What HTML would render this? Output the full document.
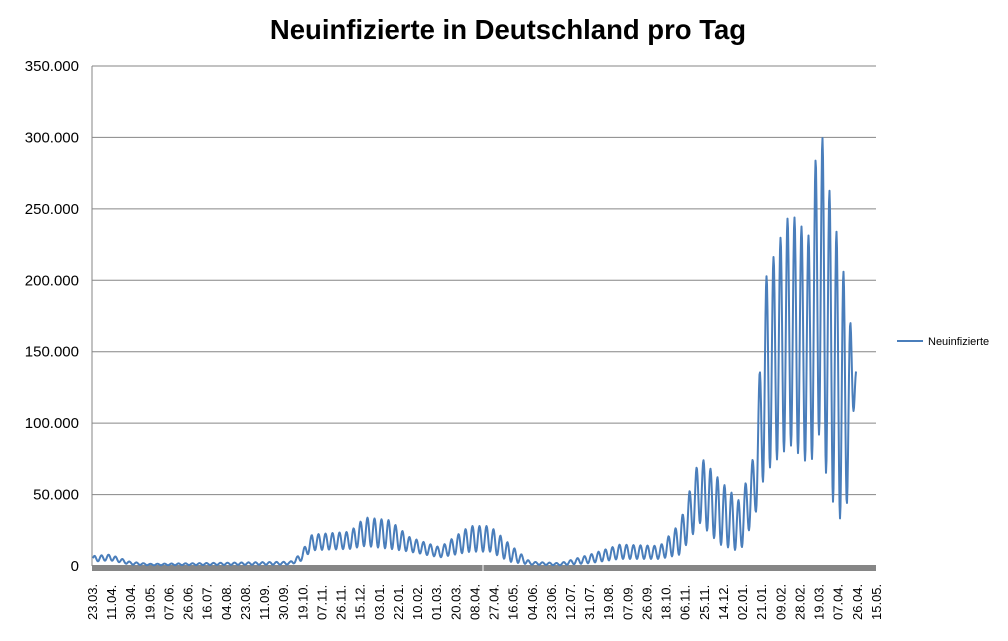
<!DOCTYPE html>
<html><head><meta charset="utf-8"><style>
body{margin:0;background:#fff;width:1008px;height:641px;overflow:hidden}
svg{display:block;font-family:"Liberation Sans",Arial,sans-serif}
</style></head><body>
<svg id="s" width="1008" height="641" xmlns="http://www.w3.org/2000/svg">
<text x="508" y="39" text-anchor="middle" font-size="27.5" font-weight="bold" fill="#000">Neuinfizierte in Deutschland pro Tag</text>
<g id="grid" stroke="#868686" stroke-width="1"></g>
<g id="ylab" font-size="15" fill="#000" text-anchor="end"></g>
<line x1="92" y1="66" x2="92" y2="566" stroke="#868686"/>
<rect x="92" y="565" width="784" height="6" fill="#868686"/>
<line x1="483" y1="565" x2="483" y2="571" stroke="#fff"/>
<g id="xlab" font-size="13" fill="#000"></g>
<path id="ser" fill="none" stroke="#4a7ebb" stroke-width="2" stroke-linejoin="round"/>
<line x1="897" y1="341" x2="923" y2="341" stroke="#4a7ebb" stroke-width="2"/>
<text x="928" y="345" font-size="11" fill="#000">Neuinfizierte</text>
</svg>
<script>
var ns="http://www.w3.org/2000/svg";
function el(p,t,a,txt){var e=document.createElementNS(ns,t);for(var k in a)e.setAttribute(k,a[k]);if(txt)e.textContent=txt;document.getElementById(p).appendChild(e);}
var ylabs=["0","50.000","100.000","150.000","200.000","250.000","300.000","350.000"];
for(var i=0;i<8;i++){var y=566-i*71.43;if(i>0)el("grid","line",{x1:92,x2:876,y1:y,y2:y});el("ylab","text",{x:79,y:y+5},ylabs[i]);}
var xl="23.03. 11.04. 30.04. 19.05. 07.06. 26.06. 16.07. 04.08. 23.08. 11.09. 30.09. 19.10. 07.11. 26.11. 15.12. 03.01. 22.01. 10.02. 01.03. 20.03. 08.04. 27.04. 16.05. 04.06. 23.06. 12.07. 31.07. 19.08. 07.09. 26.09. 18.10. 06.11. 25.11. 14.12. 02.01. 21.01. 09.02. 28.02. 19.03. 07.04. 26.04. 15.05.".split(" ");
for(var i=0;i<xl.length;i++){var x=97+i*19.12;el("xlab","text",{transform:"translate("+x+",620) rotate(-90)"},xl[i]);}
var env=[[93,7,3],[110,8,4],[130,3,1],[150,1.5,0.5],[290,3,1],[300,8,3],[312,22,11],[350,24,12],[365,34,14],[390,32,12],[410,20,10],[440,13,6],[470,28,10],[490,28,10],[510,15,3],[530,3,1],[560,2,0.5],[590,8,2],[620,15,5],[660,14,5],[680,30,8],[700,77,30],[720,60,15],[740,45,10],[755,80,35],[765,200,65],[790,248,85],[810,230,70],[819,318,92],[830,260,50],[845,200,25],[856,140,130]];
function f(x){for(var i=0;i<env.length-1;i++){var a=env[i],b=env[i+1];if(x<=b[0]){var t=(x-a[0])/(b[0]-a[0]);return[a[1]+t*(b[1]-a[1]),a[2]+t*(b[2]-a[2])];}}return[140,130];}
var d="";
for(var x=93;x<=856;x+=0.5){var e=f(x);var c=Math.cos(2*Math.PI*(x-819)/7.0);var v=e[0]+(e[1]-e[0])*((c+1)/2);var y=566-v*1.4286;d+=(d?"L":"M")+x.toFixed(1)+" "+y.toFixed(1);}
document.getElementById("ser").setAttribute("d",d);
</script>
</body></html>
